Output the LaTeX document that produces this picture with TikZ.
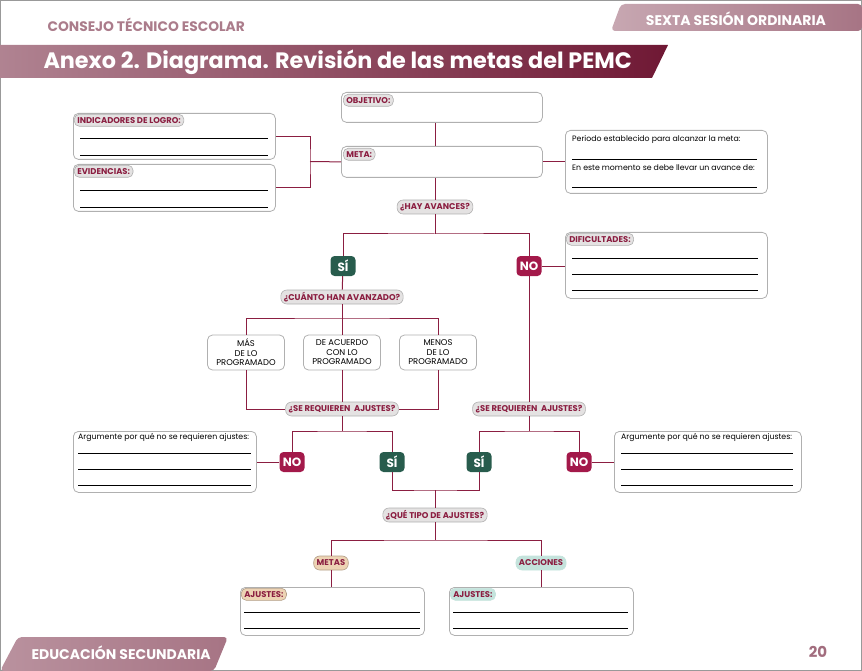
\documentclass[tikz,border=0pt]{standalone}
\usepackage{fontspec}
\setmainfont{Poppins}
\usetikzlibrary{positioning,calc}
\definecolor{guinda}{HTML}{8B1E41}
\definecolor{verde}{HTML}{285C4D}
\definecolor{rojo}{HTML}{A3194A}
\definecolor{gris}{HTML}{B0B0B0}
\definecolor{perla}{HTML}{E4E2E2}
\definecolor{arena}{HTML}{EDD3B4}
\definecolor{menta}{HTML}{C4E3DC}
\definecolor{malva}{HTML}{A26D7E}
\tikzset{
  caja/.style={draw=gris, line width=0.8pt, rounded corners=5pt, fill=white, anchor=north west, inner sep=0pt},
  etiqueta/.style={draw=gris, fill=perla, line width=0.6pt, rounded corners=5pt, inner xsep=3pt, inner ysep=0pt,
    minimum height=12pt, anchor=north west, text=guinda, font=\bfseries\fontsize{8.4}{9}\selectfont},
  pregunta/.style={etiqueta, anchor=center, minimum height=14pt, rounded corners=6pt},
  opcion/.style={draw=gris, line width=0.8pt, rounded corners=5pt, minimum width=77pt, minimum height=35pt,
    inner sep=1pt, align=center, font=\fontsize{8.4}{9.5}\selectfont},
  badgesi/.style={fill=verde, rounded corners=4pt, minimum width=25pt, minimum height=20pt, inner sep=0pt,
    text=white, font=\bfseries\fontsize{12}{12}\selectfont},
  badgeno/.style={badgesi, fill=rojo},
  enlace/.style={draw=guinda, line width=1pt},
  renglon/.style={line width=0.8pt, black},
  texto/.style={anchor=west, inner sep=0pt, font=\fontsize{7.8}{8}\selectfont}
}
\begin{document}
\begin{tikzpicture}[x=1pt,y=-1pt]
\useasboundingbox (0,0) rectangle (862,671);
\draw[gray!80, line width=2.5pt] (0,0) rectangle (862,671);
% encabezado
\node[anchor=west, text=malva!90, font=\bfseries\fontsize{13.8}{15}\selectfont] (cte) at (44,25) {CONSEJO TÉCNICO ESCOLAR};
\shade[left color=malva!60, right color=malva!95, rounded corners=4pt] (621,4) -- (862,4) -- (862,31) -- (611,31) -- cycle;
\node[text=white, font=\bfseries\fontsize{14}{15}\selectfont] (sesion) at (736,19) {SEXTA SESIÓN ORDINARIA};
\shade[left color=malva!85, right color=guinda!80!black] (0,45) -- (668,45) -- (652,78) -- (0,78) -- cycle;
\node[anchor=west, text=white, font=\bfseries\fontsize{22.3}{24}\selectfont] (titulo) at (40,62) {Anexo 2. Diagrama. Revisión de las metas del PEMC};
% cajas de arriba
\node[caja, minimum width=201pt, minimum height=30pt] (obj) at (341,92) {};
\node[etiqueta] (objl) at ([shift={(2,2)}]obj.north west) {OBJETIVO:};
\node[caja, minimum width=201pt, minimum height=31pt] (meta) at (341,146) {};
\node[etiqueta] (metal) at ([shift={(2,2)}]meta.north west) {META:};
\node[caja, minimum width=202pt, minimum height=46pt] (ind) at (73,113) {};
\node[etiqueta] (indl) at ([shift={(1,1)}]ind.north west) {INDICADORES DE LOGRO:};
\node[caja, minimum width=202pt, minimum height=47pt] (evi) at (73,164) {};
\node[etiqueta] (evil) at ([shift={(1,1)}]evi.north west) {EVIDENCIAS:};
\foreach \y in {138,155,190,207} \draw[renglon] (80,\y) -- (268,\y);
\node[caja, minimum width=202pt, minimum height=63pt] (per) at (565,130) {};
\node[texto] (per1) at (572,140) {Periodo establecido para alcanzar la meta:};
\node[texto] (per2) at (572,168) {En este momento se debe llevar un avance de:};
\foreach \y in {159,187} \draw[renglon] (572,\y) -- (757,\y);
% primera pregunta
\node[pregunta] (hay) at (435,207) {¿HAY AVANCES?};
\node[badgesi] (si1) at (343,266) {SÍ};
\node[badgeno] (no1) at (529,266) {NO};
\node[caja, minimum width=202pt, minimum height=66pt] (dif) at (565,232) {};
\node[etiqueta] (difl) at ([shift={(1,1)}]dif.north west) {DIFICULTADES:};
\foreach \y in {258,274,290} \draw[renglon] (572,\y) -- (758,\y);
\node[pregunta] (cuanto) at (342,297) {¿CUÁNTO HAN AVANZADO?};
\node[opcion] (mas) at (246,352.5) {MÁS\\DE LO\\PROGRAMADO};
\node[opcion] (acuerdo) at (342,352.5) {DE ACUERDO\\CON LO\\PROGRAMADO};
\node[opcion] (menos) at (438,352.5) {MENOS\\DE LO\\PROGRAMADO};
\node[pregunta] (req1) at (342,409) {¿SE REQUIEREN\ \ AJUSTES?};
\node[pregunta] (req2) at (529,409) {¿SE REQUIEREN\ \ AJUSTES?};
\node[badgeno] (no2) at (292,462) {NO};
\node[badgesi] (si2) at (392,462) {SÍ};
\node[badgesi] (si3) at (479,462) {SÍ};
\node[badgeno] (no3) at (579,462) {NO};
\node[caja, minimum width=183pt, minimum height=61pt] (arg1) at (73,431) {};
\node[texto] (arg1t) at (78,438) {Argumente por qué no se requieren ajustes:};
\foreach \y in {453,469,485} \draw[renglon] (78,\y) -- (251,\y);
\node[caja, minimum width=187pt, minimum height=61pt] (arg2) at (614,431) {};
\node[texto] (arg2t) at (621,438) {Argumente por qué no se requieren ajustes:};
\foreach \y in {453,469,485} \draw[renglon] (621,\y) -- (793,\y);
% tipo de ajustes
\node[pregunta] (tipo) at (435,515) {¿QUÉ TIPO DE AJUSTES?};
\node[pregunta, fill=arena, draw=arena!75!black] (metas) at (331,563) {METAS};
\node[pregunta, fill=menta, draw=menta] (acciones) at (541,563) {ACCIONES};
\node[caja, minimum width=184pt, minimum height=48pt] (aj1) at (240,587) {};
\node[etiqueta, fill=arena, draw=arena!75!black] (aj1l) at ([shift={(1,1)}]aj1.north west) {AJUSTES:};
\node[caja, minimum width=184pt, minimum height=48pt] (aj2) at (449,587) {};
\node[etiqueta, fill=menta, draw=menta] (aj2l) at ([shift={(1,1)}]aj2.north west) {AJUSTES:};
\foreach \y in {612,628} {
  \draw[renglon] (244,\y) -- (420,\y);
  \draw[renglon] (453,\y) -- (628,\y);
}
% conectores
\coordinate (junta) at (310,161.5);
\coordinate (rama1) at (435,234);
\coordinate (rama2) at (342,318);
\coordinate (rama3) at (342,431);
\coordinate (rama4) at (529,431);
\coordinate (rama5) at (435,490);
\coordinate (rama6) at (435,540);
\draw[enlace] (hay |- obj.south) -- (hay |- meta.north);
\draw[enlace] (hay |- meta.south) -- (hay);
\draw[enlace] (ind.east) -| (junta) |- (evi.east);
\draw[enlace] (junta) -- (meta.west);
\draw[enlace] (meta.east) -- (per.west);
\draw[enlace] (hay) -- (rama1);
\draw[enlace] (si1) |- (rama1) -| (no1);
\draw[enlace] (no1) -- (no1 -| dif.west);
\draw[enlace] (si1) -- (cuanto);
\draw[enlace] (cuanto) -- (rama2);
\draw[enlace] (mas) |- (rama2) -| (menos);
\draw[enlace] (rama2) -- (acuerdo);
\draw[enlace] (mas) |- (req1);
\draw[enlace] (menos) |- (req1);
\draw[enlace] (acuerdo) -- (req1);
\draw[enlace] (no1) -- (req2);
\draw[enlace] (req1) -- (rama3);
\draw[enlace] (no2) |- (rama3) -| (si2);
\draw[enlace] (req2) -- (rama4);
\draw[enlace] (si3) |- (rama4) -| (no3);
\draw[enlace] (no2) -- (no2 -| arg1.east);
\draw[enlace] (no3) -- (no3 -| arg2.west);
\draw[enlace] (si2) |- (rama5) -| (si3);
\draw[enlace] (rama5) -- (tipo);
\draw[enlace] (tipo) -- (rama6);
\draw[enlace] (metas) |- (rama6) -| (acciones);
\draw[enlace] (metas) -- (metas |- aj1.north);
\draw[enlace] (acciones) -- (acciones |- aj2.north);
% pie
\shade[left color=malva!75, right color=malva!95, rounded corners=4pt] (18,637) -- (228,637) -- (214,671) -- (0,671) -- cycle;
\node[anchor=west, text=white, font=\bfseries\fontsize{14}{15}\selectfont] (nivel) at (28,653) {EDUCACIÓN SECUNDARIA};
\node[text=malva, font=\bfseries\fontsize{15}{16}\selectfont] (pag) at (818,652) {20};
\end{tikzpicture}
\end{document}
